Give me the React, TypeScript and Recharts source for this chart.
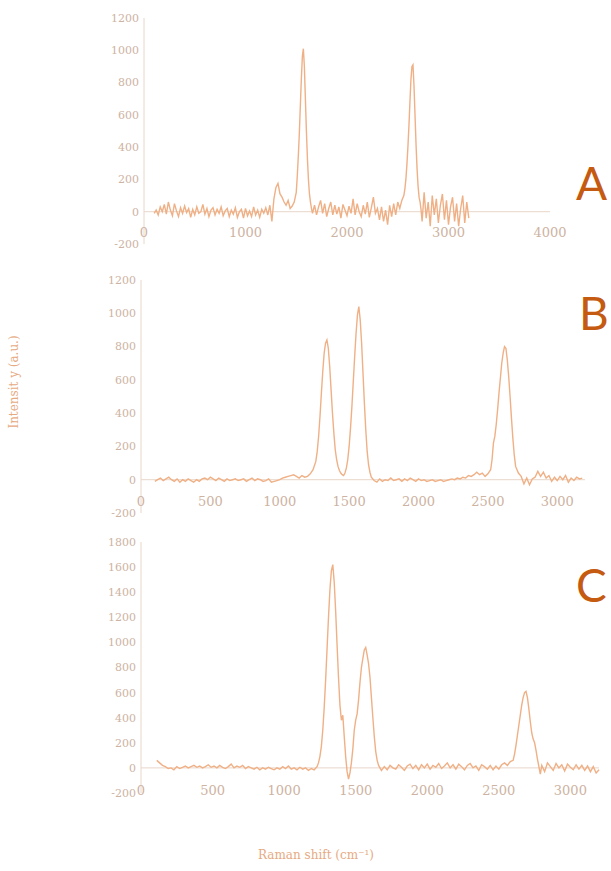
import React from "react";
import { LineChart, Line, XAxis, YAxis, ReferenceLine } from "recharts";

const LINE = "#EFB086";
const AXIS = "#E9D6CA";
const TICK = "#CDB3A2";
const LETTER = "#C55A11";
const TITLE = "#E6AA82";
const FONT = "DejaVu Serif";

// ---------- Panel A ----------
const shiftA = [
  100, 120, 140, 160, 180, 200, 220, 240, 260, 280,
  300, 320, 340, 360, 380, 400, 420, 440, 460, 480,
  500, 520, 540, 560, 580, 600, 620, 640, 660, 680,
  700, 720, 740, 760, 780, 800, 820, 840, 860, 880,
  900, 920, 940, 960, 980, 1000, 1020, 1040, 1060, 1080,
  1100, 1120, 1140, 1160, 1180, 1200, 1220, 1240, 1260, 1280,
  1300, 1320, 1340, 1360, 1380, 1400, 1420, 1440, 1460, 1480,
  1500, 1510, 1520, 1530, 1540, 1550, 1560, 1570, 1580, 1590,
  1600, 1610, 1620, 1630, 1640, 1650, 1660, 1680, 1700, 1720,
  1740, 1760, 1780, 1800, 1820, 1840, 1860, 1880, 1900, 1920,
  1940, 1960, 1980, 2000, 2020, 2040, 2060, 2080, 2100, 2120,
  2140, 2160, 2180, 2200, 2220, 2240, 2260, 2280, 2300, 2320,
  2340, 2360, 2380, 2400, 2420, 2440, 2460, 2480, 2500, 2520,
  2540, 2560, 2570, 2580, 2590, 2600, 2610, 2620, 2630, 2640,
  2650, 2660, 2670, 2680, 2690, 2700, 2710, 2720, 2730, 2740,
  2760, 2780, 2800, 2820, 2840, 2860, 2880, 2900, 2920, 2940,
  2960, 2980, 3000, 3020, 3040, 3060, 3080, 3100, 3120, 3140,
  3160, 3180, 3200,
];
const intensityA = [
  -10, 10, -20, 30, 0, 45, -15, 60, 10, -25,
  50, 5, -30, 25, -10, 35, -5, 20, -35, 15,
  -20, 30, -10, 0, 45, -15, 20, -30, 10, 25,
  -20, 15, -10, 30, -25, 5, 20, -30, 10, -15,
  25, -35, 0, 15, -40, 20, -25, 5, -30, 30,
  -20, 10, -35, 15, -10, 25, -20, 40, -60, 80,
  150, 175, 110, 90, 60, 40, 70, 20, 35, 60,
  120, 220, 340, 480, 650, 820, 960, 1010, 900, 700,
  500, 330, 200, 110, 60, 20, -10, 40, -20, 30,
  70, -10, 50, -30, 20, 60, -20, 40, -15, 30,
  -40, 45, 10, -25, 35, -10, 80, -20, 50, 0,
  -30, 40, -15, 60, -35, 25, 90, -10, 20, -50,
  30, -60, 10, -80, 40, -30, 50, -20, 60, 20,
  70, 100, 140, 200, 290, 400, 530, 680, 820, 900,
  910, 780, 600, 420, 270, 160, 90, 60, 10, -60,
  120, -40, 60, -90, 100, -20, 80, -70, 40, 110,
  -50, 70, -80, 30, 90, -60, 50, -90, 20, 100,
  -70, 60, -40,
];
const xTicksA = [0, 1000, 2000, 3000, 4000];
const yTicksA = [-200, 0, 200, 400, 600, 800, 1000, 1200];

// ---------- Panel B ----------
const shiftB = [
  100, 120, 140, 160, 180, 200, 220, 240, 260, 280,
  300, 320, 340, 360, 380, 400, 420, 440, 460, 480,
  500, 520, 540, 560, 580, 600, 620, 640, 660, 680,
  700, 720, 740, 760, 780, 800, 820, 840, 860, 880,
  900, 920, 940, 960, 980, 1000, 1020, 1040, 1060, 1080,
  1100, 1120, 1140, 1160, 1180, 1200, 1220, 1240, 1260, 1270,
  1280, 1290, 1300, 1310, 1320, 1330, 1340, 1350, 1360, 1370,
  1380, 1390, 1400, 1410, 1420, 1430, 1440, 1450, 1460, 1470,
  1480, 1490, 1500, 1510, 1520, 1530, 1540, 1550, 1560, 1570,
  1580, 1590, 1600, 1610, 1620, 1630, 1640, 1650, 1660, 1680,
  1700, 1720, 1740, 1760, 1780, 1800, 1820, 1840, 1860, 1880,
  1900, 1920, 1940, 1960, 1980, 2000, 2020, 2040, 2060, 2080,
  2100, 2120, 2140, 2160, 2180, 2200, 2220, 2240, 2260, 2280,
  2300, 2320, 2340, 2360, 2380, 2400, 2420, 2440, 2460, 2480,
  2500, 2520, 2530, 2540, 2550, 2560, 2570, 2580, 2590, 2600,
  2610, 2620, 2630, 2640, 2650, 2660, 2670, 2680, 2690, 2700,
  2710, 2720, 2740, 2760, 2780, 2800, 2820, 2840, 2860, 2880,
  2900, 2920, 2940, 2960, 2980, 3000, 3020, 3040, 3060, 3080,
  3100, 3120, 3140, 3160, 3180,
];
const intensityB = [
  -10, 0, 10, -5, 5, 15, 0, -10, 5, -15,
  0, -10, 5, -5, -15, 0, -10, 5, 10, 0,
  15, 5, -5, 10, 0, -10, 5, -5, 0, 5,
  -5, 0, 5, -10, 0, 10, -5, 5, 0, -10,
  -5, 5, -15, -10, -5, 0, 10, 15, 20, 25,
  30, 20, 10, 25, 15, 20, 35, 60, 110, 170,
  260, 380, 520, 650, 760, 820, 840, 790, 680, 540,
  400, 280, 180, 120, 80, 55, 40, 30, 25, 40,
  70, 120, 200, 310, 440, 590, 740, 880, 990, 1040,
  960, 820, 640, 460, 300, 170, 90, 45, 15, -5,
  -15, 5, -10, 0, -5, 10, -5, 0, 5, -10,
  5, -5, 10, 0, -10, 5, -5, 0, -10, -5,
  0, -10, -5, 0, -10, -5, 0, 5, 0, 10,
  5, 15, 10, 25, 20, 30, 45, 30, 40, 20,
  35, 60, 120, 220, 260, 330, 420, 520, 610, 700,
  760, 800, 790, 720, 620, 500, 370, 250, 150, 80,
  60, 40, 20, -25, 10, -30, 5, 15, 50, 20,
  45, 10, 25, -10, 15, -5, 20, 0, 25, -15,
  10, -5, 15, 5, 10,
];
const xTicksB = [0, 500, 1000, 1500, 2000, 2500, 3000];
const yTicksB = [-200, 0, 200, 400, 600, 800, 1000, 1200];

// ---------- Panel C ----------
const shiftC = [
  110, 130, 150, 170, 190, 210, 230, 250, 270, 290,
  310, 330, 350, 370, 390, 410, 430, 450, 470, 490,
  510, 530, 550, 570, 590, 610, 630, 650, 670, 690,
  710, 730, 750, 770, 790, 810, 830, 850, 870, 890,
  910, 930, 950, 970, 990, 1010, 1030, 1050, 1070, 1090,
  1110, 1130, 1150, 1170, 1190, 1210, 1230, 1240, 1250, 1260,
  1270, 1280, 1290, 1300, 1310, 1320, 1330, 1340, 1350, 1360,
  1370, 1380, 1390, 1400, 1410, 1420, 1430, 1440, 1450, 1460,
  1470, 1480, 1490, 1500, 1510, 1520, 1530, 1540, 1550, 1560,
  1570, 1580, 1590, 1600, 1610, 1620, 1630, 1640, 1650, 1660,
  1680, 1700, 1720, 1740, 1760, 1780, 1800, 1820, 1840, 1860,
  1880, 1900, 1920, 1940, 1960, 1980, 2000, 2020, 2040, 2060,
  2080, 2100, 2120, 2140, 2160, 2180, 2200, 2220, 2240, 2260,
  2280, 2300, 2320, 2340, 2360, 2380, 2400, 2420, 2440, 2460,
  2480, 2500, 2520, 2540, 2560, 2580, 2600, 2610, 2620, 2630,
  2640, 2650, 2660, 2670, 2680, 2690, 2700, 2710, 2720, 2730,
  2740, 2750, 2760, 2770, 2780, 2790, 2800, 2820, 2840, 2860,
  2880, 2900, 2920, 2940, 2960, 2980, 3000, 3020, 3040, 3060,
  3080, 3100, 3120, 3140, 3160, 3180, 3200,
];
const intensityC = [
  60, 40, 20, 10, -5, 0, -15, 10, -5, 5,
  15, 0, 10, 20, 5, 15, 0, 10, 25, 5,
  15, 0, 20, 5, -5, 10, 30, 0, 15, 5,
  20, -5, 10, 0, -10, 5, -15, 0, -10, 5,
  -5, -15, 0, -10, 10, -5, 15, -10, 0, -15,
  5, -10, 0, -20, -5, -15, 10, 40, 90, 170,
  300, 480, 700, 950, 1200, 1420, 1570, 1620, 1480, 1250,
  980, 720, 500, 380, 420, 250, 90, -30, -90, -40,
  40, 150, 300, 380, 430, 540, 680, 800, 870, 940,
  960, 900, 830, 720, 560, 400, 250, 130, 60, 20,
  -20, 10, -15, 20, 0, -10, 25, 5, -20, 15,
  30, -5, 20, -15, 25, 0, 30, -10, 20, 5,
  35, -5, 15, 40, 0, 25, -10, 30, 10, -15,
  20, 35, 0, 15, -20, 25, 10, -10, 20, -15,
  15, -10, 25, 40, 20, 50, 60, 110, 180, 260,
  340, 420, 500, 560, 600, 610, 560, 470, 370, 280,
  230, 200, 140, 70, 10, -50, 20, -30, 40, 10,
  -20, 35, 0, 25, -25, 30, 5, -15, 25, -10,
  20, -20, 15, -30, 10, -40, -15,
];
const xTicksC = [0, 500, 1000, 1500, 2000, 2500, 3000];
const yTicksC = [-200, 0, 200, 400, 600, 800, 1000, 1200, 1400, 1600, 1800];

const zip = (xs: number[], ys: number[]) => {
  const n = Math.min(xs.length, ys.length);
  const out: { x: number; y: number }[] = [];
  for (let i = 0; i < n; i++) out.push({ x: xs[i], y: ys[i] });
  return out;
};

type PanelProps = {
  data: { x: number; y: number }[];
  xDomain: [number, number];
  xTicks: number[];
  yDomain: [number, number];
  yTicks: number[];
  top: number;
  height: number;
  mt: number;
  mb: number;
  left: number;
  right: number;
  lift: number;
};

const Panel = (p: PanelProps) => {
  const renderTick = (props: any) => {
    const { x, y, payload } = props;
    return (
      <text
        x={x}
        y={y - p.lift}
        textAnchor="middle"
        dominantBaseline="central"
        fill={TICK}
        fontSize={13}
        fontFamily={FONT}
      >
        {payload.value}
      </text>
    );
  };
  return (
    <div style={{ position: "absolute", left: 0, top: p.top, width: 611, height: p.height }}>
      <LineChart
        width={611}
        height={p.height}
        data={p.data}
        margin={{ top: p.mt, bottom: p.mb, left: p.left - 44, right: p.right }}
      >
        <XAxis
          dataKey="x"
          type="number"
          domain={p.xDomain}
          ticks={p.xTicks}
          interval={0}
          axisLine={false}
          tickLine={false}
          tickSize={0}
          tickMargin={0}
          height={1}
          tick={renderTick}
        />
        <YAxis
          type="number"
          domain={p.yDomain}
          ticks={p.yTicks}
          interval={0}
          width={44}
          axisLine={{ stroke: AXIS, strokeWidth: 1 }}
          tickLine={false}
          tickSize={0}
          tickMargin={5}
          tick={{ fill: TICK, fontSize: 11, fontFamily: FONT }}
        />
        <ReferenceLine y={0} stroke={AXIS} strokeWidth={1} />
        <Line
          dataKey="y"
          type="linear"
          stroke={LINE}
          strokeWidth={1.4}
          dot={false}
          isAnimationActive={false}
        />
      </LineChart>
    </div>
  );
};

export default function App() {
  return (
    <div style={{ position: "absolute", left: 0, top: 0, width: 611, height: 871, background: "#fff" }}>
      <Panel
        data={zip(shiftA, intensityA)}
        xDomain={[0, 4000]}
        xTicks={xTicksA}
        yDomain={[-200, 1200]}
        yTicks={yTicksA}
        top={0}
        height={260}
        mt={18}
        mb={15}
        left={144}
        right={61}
        lift={12}
      />
      <Panel
        data={zip(shiftB, intensityB)}
        xDomain={[0, 3200]}
        xTicks={xTicksB}
        yDomain={[-200, 1200]}
        yTicks={yTicksB}
        top={262}
        height={270}
        mt={18}
        mb={18}
        left={141}
        right={26}
        lift={12}
      />
      <Panel
        data={zip(shiftC, intensityC)}
        xDomain={[0, 3200]}
        xTicks={xTicksC}
        yDomain={[-200, 1800]}
        yTicks={yTicksC}
        top={530}
        height={280}
        mt={12}
        mb={16}
        left={141}
        right={12}
        lift={3}
      />
      <svg
        width={611}
        height={871}
        style={{ position: "absolute", left: 0, top: 0, pointerEvents: "none" }}
      >
        <text x={576} y={200} fill={LETTER} fontSize={46} fontFamily="Lato">A</text>
        <text x={579} y={330} fill={LETTER} fontSize={46} fontFamily="Lato">B</text>
        <text x={576} y={602} fill={LETTER} fontSize={46} fontFamily="Lato">C</text>
        <text
          x={0}
          y={0}
          transform="translate(18,382) rotate(-90)"
          textAnchor="middle"
          fill={TITLE}
          fontSize={12}
          fontFamily={FONT}
        >
          Intensit y (a.u.)
        </text>
        <text x={316} y={859} textAnchor="middle" fill={TITLE} fontSize={12} fontFamily={FONT}>
          Raman shift (cm⁻¹)
        </text>
      </svg>
    </div>
  );
}
